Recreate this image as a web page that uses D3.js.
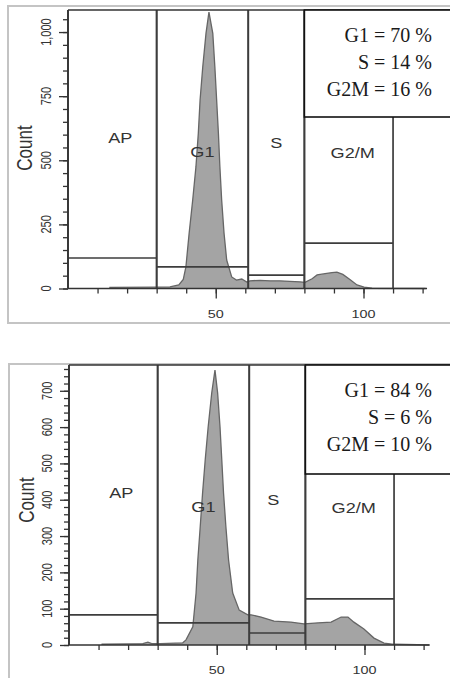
<!DOCTYPE html>
<html>
<head>
<meta charset="utf-8">
<script src="https://cdn.jsdelivr.net/npm/d3@7"></script>
<style>
  body { margin: 0; background: #fff; }
  svg { display: block; }
  .sans { font-family: "Liberation Sans", Arial, sans-serif; fill: #333; }
  .serif { font-family: "Liberation Serif", "Times New Roman", serif; fill: #1a1a1a; }
</style>
</head>
<body>
<div id="chart"></div>
<script>
// gates (channel ranges), same for both samples
var gateNames = ["AP", "G1", "S", "G2/M"];
var gateStart = [0, 30, 61, 80];
var gateEnd = [30, 61, 80, 110];

// sample 1 (top)
var topGateLevel = [119, 84, 52, 177];
var topChannel = [14, 30, 34.5, 37.5, 39, 39.9, 41, 42.2, 43.3, 44.1, 44.7, 45.6, 46.7, 47.7, 49, 49.7, 50.3, 50.9, 51.4, 52, 52.8, 53.7, 55.4, 57, 58.8, 60.5, 61.6, 65, 68.4, 71.7, 75.1, 78.5, 80.2, 82.6, 84.3, 87, 89.3, 91, 93, 95.4, 97.8, 100.2, 102.9, 121];
var topCount = [4, 5, 6, 14, 35, 84, 216, 345, 475, 605, 735, 864, 995, 1078, 995, 864, 735, 605, 475, 345, 216, 111, 45, 33, 37, 25, 30, 32, 30, 30, 28, 26, 24, 38, 53, 58, 62, 64, 55, 35, 14, 5, 1, 0];
var topStats = ["G1 = 70 %", "S = 14 %", "G2M = 16 %"];
var topMajor = [0, 250, 500, 750, 1000];
var topMajorLabels = ["0", "250", "500", "750", "1,000"];

// sample 2 (bottom)
var botGateLevel = [83, 61, 33, 127];
var botChannel = [11, 20, 25, 26.7, 28, 31, 38.5, 39.6, 41.9, 43, 43.6, 44.4, 45.2, 46.1, 47.1, 48.3, 49.4, 50.3, 51.1, 51.7, 52.3, 53.1, 54, 55.4, 57.6, 60.5, 61.6, 65, 69.4, 75.1, 79.5, 84.3, 88.7, 92.1, 94.4, 96.4, 99.8, 103.2, 106.6, 110, 122];
var botCount = [2, 3, 4, 8, 4, 4, 6, 14, 50, 143, 234, 325, 418, 510, 601, 694, 757, 694, 601, 510, 418, 325, 234, 143, 96, 83, 83, 77, 66, 63, 58, 61, 63, 77, 77, 63, 44, 19, 5, 2, 0];
var botStats = ["G1 = 84 %", "S = 6 %", "G2M = 10 %"];
var botMajor = [0, 100, 200, 300, 400, 500, 600, 700];
var botMajorLabels = ["0", "100", "200", "300", "400", "500", "600", "700"];

var xTicks = [10, 20, 30, 40, 50, 60, 70, 80, 90, 100, 110, 120];
var xLabels = [50, 100];

var W = 450, H = 678;
var sx = 1.25; // the picture is stretched sideways

var svg = d3.select("#chart").append("svg")
  .attr("width", W)
  .attr("height", H);

function drawPanel(p) {
  var x = d3.scaleLinear().domain([0, 130]).range([p.left, p.left + 130 * 2.955]);
  var y = d3.scaleLinear().domain([0, p.yMax]).range([p.bottom, p.top]);

  var g = svg.append("g");

  // outer frame
  g.append("rect")
    .attr("x", p.frameX).attr("y", p.frameY)
    .attr("width", W + 20 - p.frameX).attr("height", p.frameH)
    .attr("fill", "none").attr("stroke", "#c4c4c4").attr("stroke-width", 2);

  // histogram
  var pts = p.channel.map(function(c, i){ return [c, p.count[i]]; });
  var area = d3.area()
    .x(function(d){ return x(d[0]); })
    .y0(y(0))
    .y1(function(d){ return y(d[1]); });
  var line = d3.line()
    .x(function(d){ return x(d[0]); })
    .y(function(d){ return y(d[1]); });
  g.append("path").datum(pts)
    .attr("d", area).attr("fill", "#a4a4a4");
  g.append("path").datum(pts)
    .attr("d", line).attr("fill", "none").attr("stroke", "#666").attr("stroke-width", 1.3);

  // gates
  gateNames.forEach(function(name, i){
    var x0 = x(gateStart[i]), x1 = x(gateEnd[i]);
    g.append("line")
      .attr("x1", x0).attr("x2", x1)
      .attr("y1", y(p.gateLevel[i])).attr("y2", y(p.gateLevel[i]))
      .attr("stroke", "#3d3d3d").attr("stroke-width", 1.7);
    [x0, x1].forEach(function(xx){
      g.append("line")
        .attr("x1", xx).attr("x2", xx)
        .attr("y1", p.top).attr("y2", p.bottom)
        .attr("stroke", "#3d3d3d").attr("stroke-width", 1.7);
    });
    var cx = x((gateStart[i] + gateEnd[i]) / 2) + p.labelDx[i];
    g.append("text").attr("class", "sans")
      .attr("transform", "translate(" + cx + "," + (p.top + p.labelDy[i]) + ") scale(" + sx + ",1)")
      .attr("text-anchor", "middle")
      .attr("font-size", 14.5)
      .attr("fill", "#3a3a3a")
      .text(name);
  });

  // plot top border
  g.append("line")
    .attr("x1", p.left).attr("x2", W + 10)
    .attr("y1", p.top).attr("y2", p.top)
    .attr("stroke", "#333").attr("stroke-width", 1.5);

  // y axis
  var minor = d3.range(0, p.yMax + 1, p.minorStep);
  g.append("g")
    .attr("transform", "translate(" + p.left + ",0)")
    .call(d3.axisLeft(y).tickValues(minor).tickSize(5).tickFormat(""))
    .call(function(a){
      a.select(".domain").remove();
      a.selectAll("line").attr("stroke", "#333").attr("stroke-width", 1.3);
    });
  g.append("g")
    .attr("transform", "translate(" + p.left + ",0)")
    .call(d3.axisLeft(y).tickValues(p.major).tickSize(9).tickFormat(""))
    .call(function(a){
      a.select(".domain").remove();
      a.selectAll("line").attr("stroke", "#333").attr("stroke-width", 1.3);
    });
  g.append("line")
    .attr("x1", p.left).attr("x2", p.left)
    .attr("y1", p.top).attr("y2", p.bottom)
    .attr("stroke", "#333").attr("stroke-width", 1.7);

  p.major.forEach(function(v, i){
    g.append("text").attr("class", "sans")
      .attr("transform", "translate(" + (p.left - 22) + "," + y(v) + ") scale(" + sx + ",1) rotate(-90)")
      .attr("text-anchor", "middle")
      .attr("dy", "0.35em")
      .attr("font-size", 11)
      .text(p.majorLabels[i]);
  });

  g.append("text").attr("class", "sans")
    .attr("transform", "translate(" + p.countX + "," + p.countY + ") scale(" + sx + ",1) rotate(-90)")
    .attr("text-anchor", "middle")
    .attr("dy", "0.35em")
    .attr("font-size", 17)
    .text("Count");

  // x axis
  g.append("line")
    .attr("x1", p.left).attr("x2", x(p.axisEnd))
    .attr("y1", p.bottom).attr("y2", p.bottom)
    .attr("stroke", "#333").attr("stroke-width", 1.7);
  g.append("g")
    .attr("transform", "translate(0," + p.bottom + ")")
    .call(d3.axisBottom(x).tickValues(xTicks).tickSize(5).tickFormat(""))
    .call(function(a){
      a.select(".domain").remove();
      a.selectAll("line").attr("stroke", "#333").attr("stroke-width", 1.3);
    });
  g.append("g")
    .attr("transform", "translate(0," + p.bottom + ")")
    .call(d3.axisBottom(x).tickValues(xLabels).tickSize(10).tickFormat(""))
    .call(function(a){
      a.select(".domain").remove();
      a.selectAll("line").attr("stroke", "#333").attr("stroke-width", 1.3);
    });
  xLabels.forEach(function(v){
    g.append("text").attr("class", "sans")
      .attr("transform", "translate(" + x(v) + "," + (p.bottom + 29) + ") scale(" + sx + ",1)")
      .attr("text-anchor", "middle")
      .attr("font-size", 11.5)
      .text(v);
  });

  // stats box
  g.append("rect")
    .attr("x", x(gateStart[3])).attr("y", p.top)
    .attr("width", W + 20 - x(gateStart[3])).attr("height", p.boxH)
    .attr("fill", "#fff").attr("stroke", "#111").attr("stroke-width", 1.6);
  p.stats.forEach(function(s, i){
    g.append("text").attr("class", "serif")
      .attr("x", 432)
      .attr("y", p.top + 32 + i * 27)
      .attr("text-anchor", "end")
      .attr("font-size", 20)
      .text(s);
  });
}

drawPanel({
  left: 68, top: 10, bottom: 288.5, yMax: 1086, minorStep: 50,
  major: topMajor, majorLabels: topMajorLabels,
  channel: topChannel, count: topCount, gateLevel: topGateLevel, stats: topStats,
  frameX: 8, frameY: 6, frameH: 317, boxH: 107,
  countX: 25, countY: 148, axisEnd: 121.5,
  labelDx: [8, 0, 0, 4], labelDy: [133, 147, 138, 148]
});

drawPanel({
  left: 69, top: 365, bottom: 645, yMax: 771, minorStep: 20,
  major: botMajor, majorLabels: botMajorLabels,
  channel: botChannel, count: botCount, gateLevel: botGateLevel, stats: botStats,
  frameX: 9, frameY: 364, frameH: 400, boxH: 109,
  countX: 27, countY: 500, axisEnd: 122,
  labelDx: [8, 0, -4, 4], labelDy: [133, 147, 140, 148]
});
</script>
</body>
</html>
